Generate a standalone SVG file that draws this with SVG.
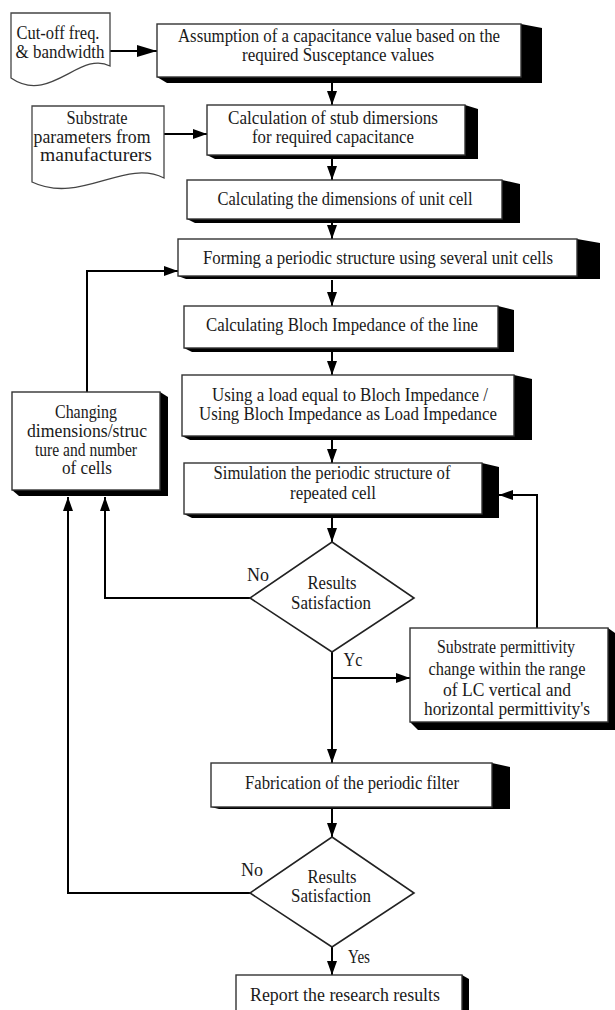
<svg xmlns="http://www.w3.org/2000/svg" width="615" height="1010" viewBox="0 0 615 1010">
<style>
text{font-family:"Liberation Serif","Times New Roman",serif;font-size:18px;fill:#1a1a1a;text-anchor:middle}
.box{fill:#fff;stroke:#333;stroke-width:1.4}
.sh{fill:#000}
.doc{fill:#fff;stroke:#444;stroke-width:1.3}
.dia{fill:#fff;stroke:#222;stroke-width:1.6}
.ln{fill:none;stroke:#000;stroke-width:2}
</style>
<defs>
<marker id="arr" viewBox="0 0 14 10" refX="14" refY="5" markerWidth="14" markerHeight="10" markerUnits="userSpaceOnUse" orient="auto"><path d="M0,0 L14,5 L0,10 z" fill="#000"/></marker>
<marker id="arrL" viewBox="0 0 20 12" refX="20" refY="6" markerWidth="20" markerHeight="12" markerUnits="userSpaceOnUse" orient="auto"><path d="M0,0 L20,6 L0,12 z" fill="#000"/></marker>
</defs>
<rect width="615" height="1010" fill="#fff"/>
<g id="connectors">
<line class="ln" x1="110" y1="51" x2="157" y2="51" marker-end="url(#arrL)"/>
<line class="ln" x1="332" y1="83" x2="332" y2="105" marker-end="url(#arr)"/>
<line class="ln" x1="164" y1="134" x2="207" y2="134" marker-end="url(#arr)"/>
<line class="ln" x1="332" y1="159" x2="332" y2="180" marker-end="url(#arr)"/>
<line class="ln" x1="332" y1="222" x2="332" y2="239" marker-end="url(#arr)"/>
<line class="ln" x1="332" y1="280" x2="332" y2="306" marker-end="url(#arr)"/>
<line class="ln" x1="332" y1="352" x2="332" y2="375" marker-end="url(#arr)"/>
<line class="ln" x1="332" y1="440" x2="332" y2="463" marker-end="url(#arr)"/>
<line class="ln" x1="332" y1="518" x2="332" y2="542" marker-end="url(#arr)"/>
<polyline class="ln" points="250,598 105,598 105,497" marker-end="url(#arr)"/>
<line class="ln" x1="332" y1="652" x2="332" y2="763" marker-end="url(#arr)"/>
<line class="ln" x1="332" y1="678" x2="410" y2="678" marker-end="url(#arr)"/>
<polyline class="ln" points="537,628 537,495 499,495" marker-end="url(#arr)"/>
<polyline class="ln" points="87,392 87,271 178,271" marker-end="url(#arr)"/>
<line class="ln" x1="332" y1="809" x2="332" y2="837" marker-end="url(#arr)"/>
<polyline class="ln" points="250,893 68,893 68,497" marker-end="url(#arr)"/>
<line class="ln" x1="332" y1="947" x2="332" y2="975" marker-end="url(#arr)"/>
</g>
<g id="doc1">
<path class="doc" d="M11,13 H110 V66 C80,50 50,105 11,78 Z"/>
<text x="58" y="39" textLength="83" lengthAdjust="spacingAndGlyphs">Cut-off freq.</text>
<text x="60" y="58" textLength="89" lengthAdjust="spacingAndGlyphs">&amp; bandwidth</text>
</g>
<g id="box1">
<polygon class="sh" points="521,24 542,28 542,83 167,83 157,77"/>
<rect class="box" x="157" y="24" width="364" height="53"/>
<text x="339" y="42" textLength="322" lengthAdjust="spacingAndGlyphs">Assumption of a capacitance value based on the</text>
<text x="338" y="61" textLength="192" lengthAdjust="spacingAndGlyphs">required Susceptance values</text>
</g>
<g id="doc2">
<path class="doc" d="M32,106 H164 V178 C125,158 80,205 32,182 Z"/>
<text x="97" y="124" textLength="61" lengthAdjust="spacingAndGlyphs">Substrate</text>
<text x="92" y="143" textLength="117" lengthAdjust="spacingAndGlyphs">parameters from</text>
<text x="96" y="161" textLength="112" lengthAdjust="spacingAndGlyphs">manufacturers</text>
</g>
<g id="box2">
<polygon class="sh" points="465,105 478,109 478,159 215,159 207,155"/>
<rect class="box" x="207" y="105" width="258" height="50"/>
<text x="333" y="124" textLength="210" lengthAdjust="spacingAndGlyphs">Calculation of stub dimersions</text>
<text x="333" y="143" textLength="162" lengthAdjust="spacingAndGlyphs">for required capacitance</text>
</g>
<g id="box3">
<polygon class="sh" points="502,180 520,184 520,223 195,223 187,219"/>
<rect class="box" x="187" y="180" width="315" height="39"/>
<text x="345" y="205" textLength="255" lengthAdjust="spacingAndGlyphs">Calculating the dimensions of unit cell</text>
</g>
<g id="box4">
<polygon class="sh" points="577,239 600,243 600,279 186,279 178,276"/>
<rect class="box" x="178" y="239" width="399" height="37"/>
<text x="378" y="264" textLength="350" lengthAdjust="spacingAndGlyphs">Forming a periodic structure using several unit cells</text>
</g>
<g id="box5">
<polygon class="sh" points="498,306 514,310 514,352 192,352 184,348"/>
<rect class="box" x="184" y="306" width="314" height="42"/>
<text x="342" y="331" textLength="272" lengthAdjust="spacingAndGlyphs">Calculating Bloch Impedance of the line</text>
</g>
<g id="box6">
<polygon class="sh" points="514,375 532,379 532,440 190,440 182,436"/>
<rect class="box" x="182" y="375" width="332" height="61"/>
<text x="350" y="401" textLength="276" lengthAdjust="spacingAndGlyphs">Using a load equal to Bloch Impedance /</text>
<text x="348" y="420" textLength="298" lengthAdjust="spacingAndGlyphs">Using Bloch Impedance as Load Impedance</text>
</g>
<g id="changing">
<polygon class="sh" points="160,392 168,397 168,496 19,496 12,490"/>
<rect class="box" x="12" y="392" width="148" height="98"/>
<text x="86" y="418" textLength="62" lengthAdjust="spacingAndGlyphs">Changing</text>
<text x="87" y="437" textLength="120" lengthAdjust="spacingAndGlyphs">dimensions/struc</text>
<text x="86" y="456" textLength="102" lengthAdjust="spacingAndGlyphs">ture and number</text>
<text x="87" y="474" textLength="50" lengthAdjust="spacingAndGlyphs">of cells</text>
</g>
<g id="box7">
<polygon class="sh" points="482,463 499,467 499,518 192,518 184,514"/>
<rect class="box" x="184" y="463" width="298" height="51"/>
<text x="332" y="479" textLength="237" lengthAdjust="spacingAndGlyphs">Simulation the periodic structure of</text>
<text x="333" y="499" textLength="86" lengthAdjust="spacingAndGlyphs">repeated cell</text>
</g>
<g id="decision1">
<polygon class="dia" points="332,542 414,598 332,652 250,598"/>
<text x="332" y="589" textLength="49" lengthAdjust="spacingAndGlyphs">Results</text>
<text x="331" y="609" textLength="80" lengthAdjust="spacingAndGlyphs">Satisfaction</text>
<text x="258" y="581" textLength="22" lengthAdjust="spacingAndGlyphs">No</text>
<text x="353" y="666" textLength="19" lengthAdjust="spacingAndGlyphs">Yc</text>
</g>
<g id="substrate">
<polygon class="sh" points="608,628 615,633 615,730 418,730 410,722"/>
<rect class="box" x="410" y="628" width="198" height="94"/>
<text x="506" y="653" textLength="138" lengthAdjust="spacingAndGlyphs">Substrate permittivity</text>
<text x="507" y="675" textLength="157" lengthAdjust="spacingAndGlyphs">change within the range</text>
<text x="507" y="696" textLength="128" lengthAdjust="spacingAndGlyphs">of LC vertical and</text>
<text x="507" y="715" textLength="166" lengthAdjust="spacingAndGlyphs">horizontal permittivity's</text>
</g>
<g id="fabrication">
<polygon class="sh" points="492,763 510,767 510,809 219,809 211,807"/>
<rect class="box" x="211" y="763" width="281" height="44"/>
<text x="352" y="789" textLength="214" lengthAdjust="spacingAndGlyphs">Fabrication of the periodic filter</text>
</g>
<g id="decision2">
<polygon class="dia" points="332,837 414,893 332,947 250,893"/>
<text x="332" y="883" textLength="49" lengthAdjust="spacingAndGlyphs">Results</text>
<text x="331" y="902" textLength="80" lengthAdjust="spacingAndGlyphs">Satisfaction</text>
<text x="252" y="876" textLength="22" lengthAdjust="spacingAndGlyphs">No</text>
<text x="359" y="963" textLength="22" lengthAdjust="spacingAndGlyphs">Yes</text>
</g>
<g id="report">
<polygon class="sh" points="462,975 469,979 469,1015 236,1015"/>
<rect class="box" x="236" y="975" width="226" height="40"/>
<text x="345" y="1001" textLength="190" lengthAdjust="spacingAndGlyphs">Report the research results</text>
</g>
</svg>
